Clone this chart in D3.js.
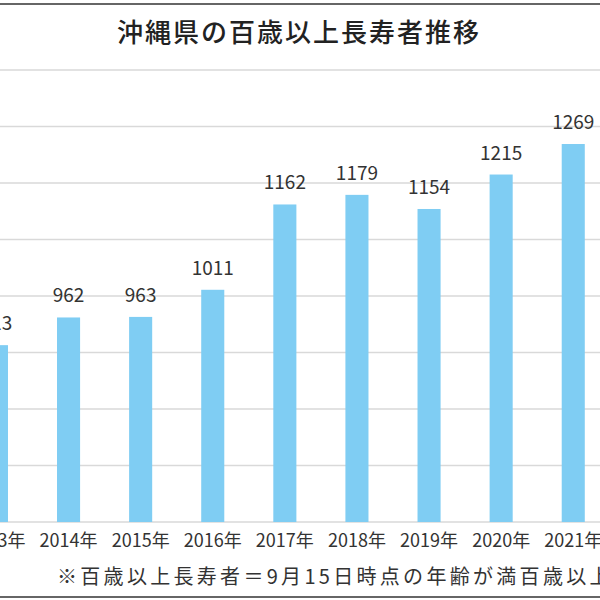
<!DOCTYPE html>
<html>
<head>
<meta charset="utf-8">
<script src="https://cdn.jsdelivr.net/npm/d3@7"></script>
<style>
  body { margin: 0; background: #fff; }
  svg { display: block; font-family: "Noto Sans CJK JP", "Noto Sans", sans-serif; }
</style>
</head>
<body>
<div id="chart"></div>
<script>
// 沖縄県の百歳以上長寿者数
var years  = ["2013年", "2014年", "2015年", "2016年", "2017年", "2018年", "2019年", "2020年", "2021年"];
var counts = [913, 962, 963, 1011, 1162, 1179, 1154, 1215, 1269];
var yTicks = [600, 700, 800, 900, 1000, 1100, 1200, 1300, 1400];

var title = "沖縄県の百歳以上長寿者推移";
var note  = "※百歳以上長寿者＝9月15日時点の年齢が満百歳以上の者";

var W = 600, H = 600;
var svg = d3.select("#chart").append("svg")
  .attr("width", W).attr("height", H);

// 枠線（上下のみ見える）
svg.append("line").attr("x1", 0).attr("x2", W).attr("y1", 4).attr("y2", 4)
  .attr("stroke", "#666").attr("stroke-width", 2);
svg.append("line").attr("x1", 0).attr("x2", W).attr("y1", 597).attr("y2", 597)
  .attr("stroke", "#666").attr("stroke-width", 2);

var x = d3.scaleBand()
  .domain(years)
  .range([-39.6, 609.3])
  .paddingInner(0.68)
  .paddingOuter(0.34);

var y = d3.scaleLinear()
  .domain([600, 1400])
  .range([522, 70]);

// grid
svg.append("g").selectAll("line")
  .data(yTicks)
  .enter().append("line")
  .attr("x1", 0).attr("x2", W)
  .attr("y1", function(d){ return y(d); })
  .attr("y2", function(d){ return y(d); })
  .attr("stroke", "#d9d9d9")
  .attr("stroke-width", 1.5);

// bars
svg.append("g").selectAll("rect")
  .data(counts)
  .enter().append("rect")
  .attr("x", function(d, i){ return x(years[i]); })
  .attr("width", x.bandwidth())
  .attr("y", function(d){ return y(d); })
  .attr("height", function(d){ return y(600) - y(d); })
  .attr("fill", "#7fcdf3");

// value labels
svg.append("g").selectAll("text")
  .data(counts)
  .enter().append("text")
  .attr("x", function(d, i){ return x(years[i]) + x.bandwidth() / 2; })
  .attr("y", function(d){ return y(d) - 15; })
  .attr("text-anchor", "middle")
  .attr("font-size", 19)
  .attr("fill", "#333")
  .text(function(d){ return d; });

// x axis labels
var xAxis = d3.axisBottom(x).tickSize(0).tickPadding(0);
var gx = svg.append("g")
  .attr("transform", "translate(0," + 530 + ")")
  .call(xAxis);
gx.select(".domain").remove();
gx.selectAll("text")
  .attr("font-size", 18)
  .attr("font-family", "\"Noto Sans CJK JP\", sans-serif")
  .attr("fill", "#333")
  .attr("dy", "0.95em");

// title
svg.append("text")
  .attr("x", 299).attr("y", 42)
  .attr("text-anchor", "middle")
  .attr("font-size", 26)
  .attr("font-weight", 500)
  .attr("letter-spacing", 2)
  .attr("fill", "#222")
  .text(title);

// 注釈
svg.append("text")
  .attr("x", 57).attr("y", 584)
  .attr("font-size", 20)
  .attr("letter-spacing", 3.3)
  .attr("fill", "#333")
  .text(note);
</script>
</body>
</html>
